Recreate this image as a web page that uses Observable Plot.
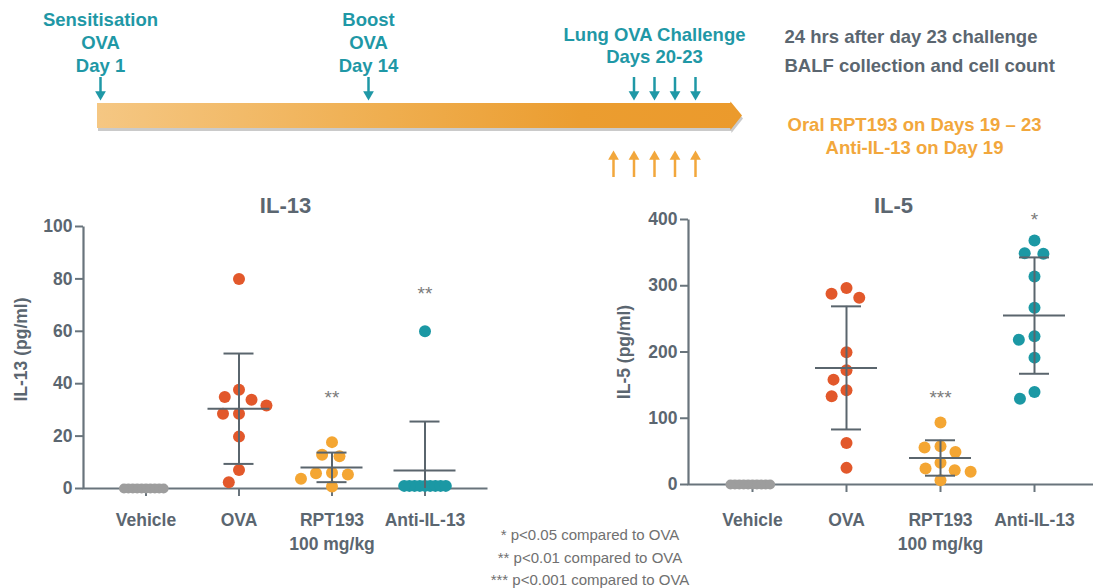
<!DOCTYPE html>
<html><head><meta charset="utf-8">
<script src="https://cdn.jsdelivr.net/npm/d3@7"></script>
<script src="https://cdn.jsdelivr.net/npm/@observablehq/plot@0.6"></script>
<style>
html,body{margin:0;padding:0;background:#fff;overflow:hidden;}
#page{position:relative;width:1093px;height:588px;font-family:"Liberation Sans",Arial,sans-serif;}
.panel{position:absolute;}
#footnote{position:absolute;left:440px;top:524px;width:300px;text-align:center;font-size:15px;line-height:22.5px;color:#707070;}
</style></head>
<body><div id="page">
<div id="timeline" class="panel" style="left:0;top:0;width:1093px"></div>
<div id="il13" class="panel" style="left:0;top:190px;width:500px"></div>
<div id="il5" class="panel" style="left:600px;top:190px;width:500px"></div>
<div id="footnote"></div>
</div>
<script>
// ---------------- data ----------------
const groups = ["Vehicle", "OVA", "RPT193", "Anti-IL-13"];
const groupLabels = ["Vehicle", "OVA", "RPT193\n100 mg/kg", "Anti-IL-13"];
const groupColors = ["#9d9d9d", "#e2582b", "#f4a633", "#1b98a4"];

const il13Vehicle = [0, 0, 0, 0, 0, 0, 0, 0, 0, 0];
const il13OVA = [80, 37.7, 34.9, 33.9, 31.7, 28.5, 28.5, 19.8, 7.1, 2.4];
const il13RPT193 = [17.7, 12.9, 12.3, 6.0, 5.8, 5.3, 3.7, 0.8];
const il13Anti = [60, 1, 1, 1, 1, 1, 1, 1, 1, 1];
const il13Ticks = [0, 20, 40, 60, 80, 100];
const il13Signif = [["RPT193", 36.5, "**"], ["Anti-IL-13", 76, "**"]];

const il5Vehicle = [0, 0, 0, 0, 0, 0, 0, 0, 0, 0];
const il5OVA = [296.5, 288, 281.9, 199.5, 172.4, 158.3, 142.2, 133.2, 62.8, 25.1];
const il5RPT193 = [93.5, 57.8, 55.8, 49.2, 32.7, 24.1, 21.6, 19.1, 6.5];
const il5Anti = [368.3, 349.2, 348.2, 314.1, 266.8, 223.6, 218.6, 191.5, 139.7, 129.6];
const il5Ticks = [0, 100, 200, 300, 400];
const il5Signif = [["RPT193", 139, "***"], ["Anti-IL-13", 407, "*"]];

const footnotes = ["* p<0.05 compared to OVA", "** p<0.01 compared to OVA", "*** p<0.001 compared to OVA"];

const timelineStart = 0, timelineEnd = 25;
const sensitisationDay = 1, boostDay = 14;
const challengeDays = [20, 21, 22, 23];
const treatmentDays = [19, 20, 21, 22, 23];
const phaseLabels = [[sensitisationDay, "Sensitisation\nOVA\nDay 1"], [boostDay, "Boost\nOVA\nDay 14"]];
const challengeLabel = [[21, "Lung OVA Challenge\nDays 20-23"]];
const endpointNote = "24 hrs after day 23 challenge\nBALF collection and cell count";
const treatmentNote = "Oral RPT193 on Days 19 \u2013 23\nAnti-IL-13 on Day 19";

// ---------------- styles ----------------
const TEAL = "#1f98a6", ORANGE = "#f2a73c", GRAYTEXT = "#5b6670", AXIS = "#69747c", BAR = "#5a656d";
const FONT = '"Liberation Sans", Arial, sans-serif';

// ---------------- timeline ----------------
// the timeline is not drawn to scale: a piecewise day scale
const dayScale = d3.scaleLinear()
  .domain([timelineStart, sensitisationDay, boostDay, treatmentDays[0], challengeDays[3], timelineEnd])
  .range([97, 100, 368, 613, 695, 742]);
const BAR_TOP = 103, BAR_BOTTOM = 128;
const barShape = [
  {day: timelineStart, top: BAR_TOP, bottom: BAR_BOTTOM},
  {day: timelineEnd - 0.5, top: BAR_TOP, bottom: BAR_BOTTOM},
  {day: timelineEnd - 0.49, top: BAR_TOP - 1.5, bottom: BAR_BOTTOM + 2},
  {day: timelineEnd, top: (BAR_TOP + BAR_BOTTOM) / 2, bottom: (BAR_TOP + BAR_BOTTOM) / 2}
];
const downDays = [sensitisationDay, boostDay, ...challengeDays];

function gradientDefs() {
  const ns = "http://www.w3.org/2000/svg";
  const defs = document.createElementNS(ns, "defs");
  const g = document.createElementNS(ns, "linearGradient");
  g.setAttribute("id", "tlgrad");
  g.setAttribute("x1", "0"); g.setAttribute("x2", "1"); g.setAttribute("y1", "0"); g.setAttribute("y2", "0");
  [["0", "#f5c783"], ["0.45", "#efae4f"], ["0.75", "#eb9d30"], ["1", "#eb9a2c"]].forEach(([o, c]) => {
    const s = document.createElementNS(ns, "stop");
    s.setAttribute("offset", o); s.setAttribute("stop-color", c);
    g.appendChild(s);
  });
  defs.appendChild(g);
  return defs;
}

const timeline = Plot.plot({
  width: 1093, height: 190, margin: 0,
  x: {type: "identity"},
  y: {type: "identity"},
  style: {fontFamily: FONT, fontSize: "18.5px", fontWeight: "bold", background: "none"},
  marks: [
    gradientDefs,
    Plot.area(barShape, {x1: d => dayScale(d.day), y1: "top", y2: "bottom", fill: "#8a8a8a", fillOpacity: 0.45, dx: 1, dy: 3}),
    Plot.area(barShape, {x1: d => dayScale(d.day), y1: "top", y2: "bottom", fill: "url(#tlgrad)"}),
    Plot.ruleX(downDays, {x: d => dayScale(d), y1: 77, y2: 93, stroke: TEAL, strokeWidth: 2.5}),
    Plot.dot(downDays, {x: d => dayScale(d), y: 93.8, symbol: "triangle", rotate: 180, r: 4, fill: TEAL}),
    Plot.ruleX(treatmentDays, {x: d => dayScale(d), y1: 157, y2: 177, stroke: ORANGE, strokeWidth: 2.5}),
    Plot.dot(treatmentDays, {x: d => dayScale(d), y: 156.2, symbol: "triangle", r: 4, fill: ORANGE}),
    Plot.text(phaseLabels, {x: d => dayScale(d[0]), y: 9.8, text: d => d[1], lineAnchor: "top", lineHeight: 1.23, fill: TEAL}),
    Plot.text(challengeLabel, {x: d => dayScale(d[0]), y: 24.3, text: d => d[1], lineAnchor: "top", lineHeight: 1.2, fill: TEAL}),
    Plot.text([endpointNote], {text: d => d, frameAnchor: "top-left", dx: 784, dy: 21.4, lineAnchor: "top", textAnchor: "start", lineHeight: 1.57, fill: GRAYTEXT}),
    Plot.text([treatmentNote], {text: d => d, frameAnchor: "top-left", dx: 914, dy: 114.5, lineAnchor: "top", textAnchor: "middle", lineHeight: 1.24, fill: ORANGE})
  ]
});
document.getElementById("timeline").append(timeline);

// ---------------- cytokine panels ----------------
function cytokineChart({title, yLabel, series, ticks, yMax, signif, width, height, marginLeft, marginRight, marginTop, marginBottom, step, titleDy, labelX, labelDy, denseBelow, labelPadding}) {
  const points = groups.flatMap((g, i) => series[i].map(v => ({group: g, value: v})));
  const stats = groups.map((g, i) => {
    const m = d3.mean(series[i]);
    const s = d3.deviation(series[i]) || 0;
    return {group: g, mean: m, hi: m + s, lo: m - s, sd: s};
  }).filter(d => d.sd > 0);
  const W = width - marginLeft - marginRight;
  const H = height - marginTop - marginBottom;
  const po = (W / step - groups.length) / 2;
  const offset = po * step;
  const meanInset = (step - 62) / 2;
  const capInset = (step - 30) / 2;
  const sparse = points.filter(d => d.value >= denseBelow);
  const denseVehicle = points.filter(d => d.value < denseBelow && d.group === "Vehicle");
  const denseOther = points.filter(d => d.value < denseBelow && d.group !== "Vehicle");
  return Plot.plot({
    width, height, marginLeft, marginRight, marginTop, marginBottom,
    style: {fontFamily: FONT, fontSize: "17.5px", fontWeight: "bold", color: GRAYTEXT, background: "none", overflow: "visible"},
    fx: {domain: groups, paddingInner: 0, paddingOuter: po, align: 0.5, round: false},
    y: {domain: [0, yMax]},
    color: {domain: groups, range: groupColors},
    marks: [
      Plot.frame({facet: "super", insetLeft: -offset, insetRight: -offset, stroke: AXIS, strokeWidth: 2.2,
                  strokeDasharray: `0 ${W + H} ${W + H}`}),
      Plot.axisY({ticks, tickSize: 8, tickPadding: 3, dx: -offset, label: null, stroke: AXIS, strokeWidth: 2}),
      Plot.axisFx({anchor: "bottom", tickSize: 8, tickPadding: labelPadding, label: null, stroke: AXIS, strokeWidth: 2,
                   tickFormat: d => groupLabels[groups.indexOf(d)], lineHeight: 1.34}),
      Plot.dot(sparse, Plot.dodgeX({anchor: "middle", padding: 4, r: 6}, {fx: "group", y: "value", r: 6, fill: "group"})),
      Plot.dot(denseVehicle, Plot.dodgeX({anchor: "middle", padding: 0, r: 2.2}, {fx: "group", y: "value", r: 5, fill: "group"})),
      Plot.dot(denseOther, Plot.dodgeX({anchor: "middle", padding: 0, r: 2.6}, {fx: "group", y: "value", r: 6, fill: "group"})),
      Plot.ruleX(stats, {x: null, fx: "group", y1: "lo", y2: "hi", stroke: BAR, strokeWidth: 2, clip: true}),
      Plot.tickY(stats, {fx: "group", y: "mean", stroke: BAR, strokeWidth: 2, insetLeft: meanInset, insetRight: meanInset}),
      Plot.tickY(stats, {fx: "group", y: "hi", stroke: BAR, strokeWidth: 2, insetLeft: capInset, insetRight: capInset}),
      Plot.tickY(stats, {fx: "group", y: "lo", stroke: BAR, strokeWidth: 2, insetLeft: capInset, insetRight: capInset, clip: true}),
      Plot.text(signif, {fx: d => d[0], y: d => d[1], text: d => d[2], fontSize: 19, fontWeight: "normal", fill: "#7b7b7b", dy: 5}),
      Plot.text([title], {text: d => d, facet: "super", frameAnchor: "top", lineAnchor: "middle", dy: titleDy, fontSize: 22, fill: GRAYTEXT}),
      Plot.text([yLabel], {text: d => d, facet: "super", frameAnchor: "left", rotate: -90, dx: labelX - marginLeft - offset, dy: labelDy,
                           lineAnchor: "middle", textAnchor: "middle", fill: GRAYTEXT})
    ]
  });
}

document.getElementById("il13").append(cytokineChart({
  title: "IL-13", yLabel: "IL-13 (pg/ml)",
  series: [il13Vehicle, il13OVA, il13RPT193, il13Anti], ticks: il13Ticks, yMax: 100, signif: il13Signif,
  width: 500, height: 370, marginLeft: 83, marginRight: 13, marginTop: 36, marginBottom: 72,
  step: 93, titleDy: -21, labelX: 20.5, labelDy: -8, denseBelow: 1.5, labelPadding: 13
}));

document.getElementById("il5").append(cytokineChart({
  title: "IL-5", yLabel: "IL-5 (pg/ml)",
  series: [il5Vehicle, il5OVA, il5RPT193, il5Anti], ticks: il5Ticks, yMax: 400, signif: il5Signif,
  width: 500, height: 370, marginLeft: 88, marginRight: 2, marginTop: 29, marginBottom: 76,
  step: 94, titleDy: -14, labelX: 23.5, labelDy: 0, denseBelow: 3, labelPadding: 17
}));

const fn = document.getElementById("footnote");
footnotes.forEach((t, i) => {
  if (i) fn.appendChild(document.createElement("br"));
  fn.appendChild(document.createTextNode(t));
});
</script>
</body></html>
